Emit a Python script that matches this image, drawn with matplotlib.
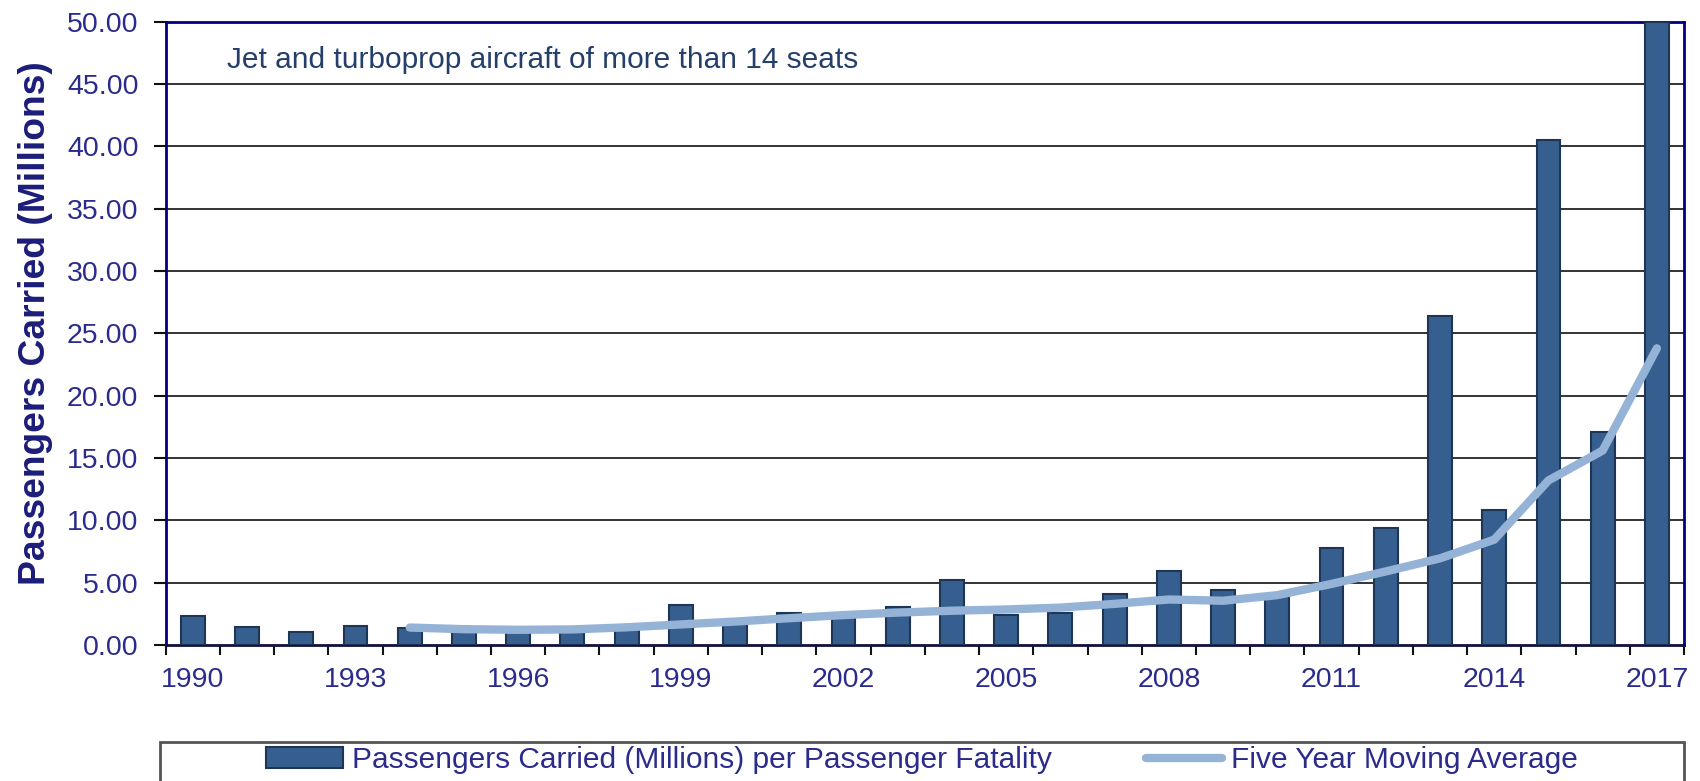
import matplotlib
matplotlib.use("Agg")
import matplotlib.pyplot as plt
from matplotlib.patches import Rectangle
from matplotlib.lines import Line2D
from matplotlib.patches import Patch
import numpy as np

years = list(range(1990, 2018))
passengers_per_fatality = [2.35, 1.47, 1.05, 1.5, 1.35, 1.2, 1.3, 1.2, 1.4, 3.2,
                           1.95, 2.6, 2.4, 3.05, 5.25, 2.4, 2.6, 4.1, 5.9, 4.4,
                           3.9, 7.8, 9.4, 26.4, 10.8, 40.5, 17.1, 50.0]
ma_years = list(range(1994, 2018))
moving_average = [1.4, 1.27, 1.22, 1.25, 1.42, 1.65, 1.88, 2.15, 2.4, 2.6,
                  2.75, 2.85, 3.0, 3.3, 3.65, 3.55, 4.0, 4.9, 5.9, 6.95,
                  8.45, 13.2, 15.6, 23.8]
y_ticks = [0, 5, 10, 15, 20, 25, 30, 35, 40, 45, 50]
label_years = list(range(1990, 2018, 3))

plt.rcParams['font.family'] = ['Liberation Sans', 'DejaVu Sans']

W, H = 1700, 781
fig = plt.figure(figsize=(W / 100, H / 100), dpi=100)
ax = fig.add_axes([165.7 / W, 1 - 645 / H, (1684 - 165.7) / W, (645 - 21.7) / H])

navy_axis = '#000080'
tick_col = '#2B2B8C'
bar_col = '#365F8F'
edge_col = '#1E3556'
line_col = '#95B3D7'

x = np.arange(len(years))
ax.bar(x, passengers_per_fatality, width=0.44, color=bar_col, edgecolor=edge_col,
       linewidth=1.5, zorder=3)
xm = np.array([years.index(y) for y in ma_years])
ax.plot(xm, moving_average, color=line_col, lw=6, solid_capstyle='round',
        solid_joinstyle='round', zorder=4)

ax.set_xlim(-0.5, len(years) - 0.5)
ax.set_ylim(0, 50)
ax.set_yticks(y_ticks)
ax.set_yticklabels([f"{v:.2f}" for v in y_ticks])
for v in y_ticks[1:-1]:
    ax.axhline(v, color='#333333', lw=1.4, zorder=1)

ax.set_xticks([years.index(y) for y in label_years])
ax.set_xticklabels([str(y) for y in label_years])
ax.set_xticks(np.arange(-0.5, len(years) + 0.5, 1), minor=True)
ax.tick_params(axis='x', which='major', length=0, pad=16, labelsize=20.5,
               labelcolor=tick_col)
ax.tick_params(axis='x', which='minor', length=7, width=1.5, color='#111111',
               direction='out')
ax.tick_params(axis='y', which='major', length=8.6, width=1.5, color='#111111',
               pad=11, labelsize=20.5, labelcolor=tick_col)

for s in ['left', 'top', 'right']:
    ax.spines[s].set_color(navy_axis)
    ax.spines[s].set_linewidth(2)
ax.spines['bottom'].set_color('#101040')
ax.spines['bottom'].set_linewidth(2)

ax.set_ylabel('Passengers Carried (Millions)', fontsize=26.8, fontweight='bold',
              color='#1C1C7A', va='center', ha='center')
ax.yaxis.set_label_coords((36 - 165.7) / (1684 - 165.7), (645 - 323) / (645 - 21.7))

ax.text(227 / W, 1 - 68 / H, 'Jet and turboprop aircraft of more than 14 seats',
        transform=fig.transFigure, fontsize=21.5, color='#243F6B',
        ha='left', va='baseline')

# legend frame
fig.patches.append(Rectangle((160 / W, -0.05), (1684 - 160) / W, 1 - 742 / H + 0.05,
                             transform=fig.transFigure, fill=False,
                             edgecolor='#555555', lw=2))
handles = [Patch(facecolor=bar_col, edgecolor=edge_col, lw=1.5),
           Line2D([0], [0], color=line_col, lw=6, solid_capstyle='round')]
labels = ['Passengers Carried (Millions) per Passenger Fatality',
          'Five Year Moving Average']
fig.legend(handles, labels, loc='center', bbox_to_anchor=((160 + 1684) / 2 / W, 1 - 760 / H),
           ncol=2, frameon=False, fontsize=21.5, labelcolor=tick_col,
           handlelength=2.55, handletextpad=0.3, columnspacing=3.15,
           handleheight=0.7, borderpad=0, borderaxespad=0)

fig.savefig('out.png', dpi=100)
